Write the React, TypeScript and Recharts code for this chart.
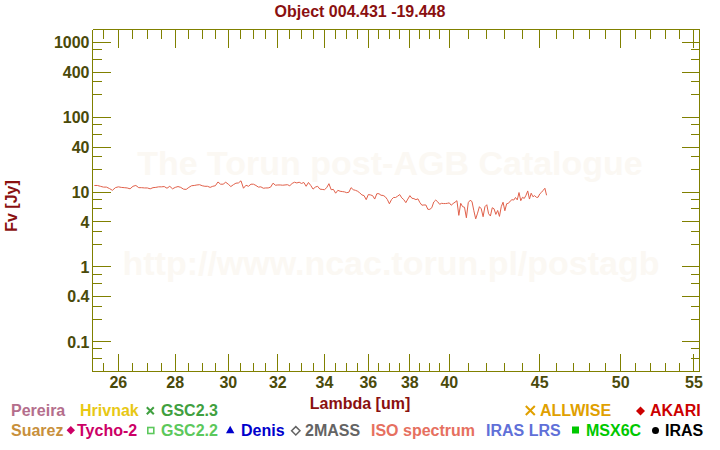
import { Line, LineChart, XAxis, YAxis } from "recharts";

// ISO SWS spectrum (um, Jy)
const WAVELENGTH = [
  25.2, 25.3, 25.4, 25.5, 25.6, 25.7, 25.8, 25.9, 26.0, 26.1, 26.2, 26.3, 26.4, 26.5, 26.6, 26.7, 26.8, 26.9,
  27.0, 27.1, 27.2, 27.3, 27.4, 27.5, 27.6, 27.7, 27.8, 27.9, 28.0, 28.1, 28.2, 28.3, 28.4, 28.5, 28.6, 28.7,
  28.8, 28.9, 29.0, 29.1, 29.2, 29.3, 29.4, 29.5, 29.6, 29.7, 29.8, 29.9, 30.0, 30.1, 30.2, 30.3, 30.4, 30.5,
  30.6, 30.7, 30.8, 30.9, 31.0, 31.1, 31.2, 31.3, 31.4, 31.5, 31.6, 31.7, 31.8, 31.9, 32.0, 32.1, 32.2, 32.3,
  32.4, 32.5, 32.6, 32.7, 32.8, 32.9, 33.0, 33.1, 33.2, 33.3, 33.4, 33.5, 33.6, 33.7, 33.8, 33.9, 34.0, 34.1,
  34.2, 34.3, 34.4, 34.5, 34.6, 34.7, 34.8, 34.9, 35.0, 35.1, 35.2, 35.3, 35.4, 35.5, 35.6, 35.7, 35.8, 35.9,
  36.0, 36.1, 36.2, 36.3, 36.4, 36.5, 36.6, 36.7, 36.8, 36.9, 37.0, 37.1, 37.2, 37.3, 37.4, 37.5, 37.6, 37.7,
  37.8, 37.9, 38.0, 38.1, 38.2, 38.3, 38.4, 38.5, 38.6, 38.7, 38.8, 38.9, 39.0, 39.1, 39.2, 39.3, 39.4, 39.5,
  39.6, 39.7, 39.8, 39.9, 40.0, 40.1, 40.2, 40.3, 40.4, 40.5, 40.6, 40.7, 40.8, 40.9, 41.0, 41.1, 41.2, 41.3,
  41.4, 41.5, 41.6, 41.7, 41.8, 41.9, 42.0, 42.1, 42.2, 42.3, 42.4, 42.5, 42.6, 42.7, 42.8, 42.9, 43.0, 43.1,
  43.2, 43.3, 43.4, 43.5, 43.6, 43.7, 43.8, 43.9, 44.0, 44.1, 44.2, 44.3, 44.4, 44.5, 44.6, 44.7, 44.8, 44.9,
  45.0, 45.1, 45.2, 45.3, 45.4,
];
const FLUX_JY = [
  12.3, 12.3, 12.0, 11.7, 11.7, 11.2, 10.6, 11.5, 11.8, 11.6, 11.5, 11.4, 11.1, 12.0, 12.3, 11.5, 11.5, 11.4,
  11.4, 11.1, 11.5, 11.6, 11.8, 11.8, 11.9, 11.3, 12.0, 11.1, 11.6, 11.9, 11.6, 11.0, 10.9, 11.6, 12.2, 12.3,
  12.5, 12.6, 12.2, 12.0, 12.0, 11.6, 12.0, 12.2, 13.7, 12.8, 12.8, 13.6, 12.8, 11.9, 12.6, 13.2, 13.3, 14.2,
  11.3, 12.4, 12.0, 12.8, 12.8, 12.3, 11.7, 11.8, 11.3, 11.4, 11.4, 11.7, 13.2, 12.4, 12.5, 12.5, 12.4, 12.5,
  12.6, 12.2, 13.1, 13.6, 13.3, 13.6, 13.1, 13.5, 12.0, 13.5, 12.3, 11.0, 11.7, 12.0, 11.0, 10.9, 10.8, 11.5,
  13.0, 10.8, 10.9, 9.7, 10.6, 10.3, 10.2, 10.1, 9.85, 10.0, 11.5, 10.8, 10.6, 10.3, 9.8, 9.2, 9.0, 7.95,
  9.3, 9.2, 9.0, 8.1, 9.55, 9.55, 9.1, 9.05, 8.7, 8.0, 7.0, 7.95, 8.5, 8.5, 8.85, 9.3, 8.4, 7.95,
  7.25, 8.1, 9.0, 8.3, 8.2, 7.95, 8.15, 7.25, 6.7, 6.75, 6.75, 5.9, 5.9, 6.2, 7.4, 7.85, 7.45, 6.9,
  7.1, 7.05, 7.05, 7.1, 7.2, 6.7, 7.05, 7.35, 7.7, 4.9, 7.1, 6.4, 6.3, 4.55, 7.25, 7.8, 7.5, 5.65,
  4.4, 5.25, 6.4, 6.0, 4.7, 6.4, 6.8, 5.15, 4.8, 6.2, 6.0, 5.05, 5.7, 4.75, 6.4, 7.35, 5.65, 7.0,
  7.1, 7.6, 7.95, 7.85, 8.5, 7.9, 9.9, 7.7, 8.55, 8.25, 9.1, 10.4, 8.1, 9.7, 8.7, 9.0, 8.55, 8.55,
  9.5, 9.95, 10.6, 11.3, 9.1,
];

const X_TICKS = [
  25.5, 26, 26.5, 27, 27.5, 28, 28.5, 29, 29.5, 30, 30.5, 31, 31.5, 32, 32.5, 33, 33.5, 34, 34.5, 35, 35.5,
  36, 36.5, 37, 37.5, 38, 38.5, 39, 39.5, 40, 41, 42, 43, 44, 45, 46, 47, 48, 49, 50, 51, 52, 53, 54, 55,
];
const X_LABELS = [26, 28, 30, 32, 34, 36, 38, 40, 45, 50, 55];
const Y_TICKS = [
  0.06, 0.08, 0.1, 0.2, 0.3, 0.4, 0.6, 0.8, 1, 2, 3, 4, 6, 8, 10, 20, 30, 40, 60, 80, 100, 200, 300, 400,
  600, 800, 1000,
];
const Y_LABELS = [0.1, 0.4, 1, 4, 10, 40, 100, 400, 1000];

const LEGEND_NAMES = [
  "Pereira", "Hrivnak", "GSC2.3", "ALLWISE", "AKARI",
  "Suarez", "Tycho-2", "GSC2.2", "Denis", "2MASS", "ISO spectrum", "IRAS LRS", "MSX6C", "IRAS",
];
const LEGEND_COLORS = [
  "#b46e8c", "#e8c814", "#40a040", "#e0a000", "#cc0000",
  "#c8903c", "#cc0066", "#5cc85c", "#0000cc", "#646464", "#e67060", "#6070d8", "#00c800", "#000000",
];
const LEGEND_MARKERS = [
  "", "", "cross", "cross", "diamond",
  "", "diamond", "square-open", "triangle", "diamond-open", "", "", "square", "circle",
];
// text x, baseline y, marker centre and half size
const LEGEND_LAYOUT = [
  { x: 11, y: 416 }, { x: 80, y: 416 }, { x: 161, y: 416, mx: 150.3, my: 410.7, ms: 3.5 },
  { x: 540, y: 416, mx: 530.3, my: 410.5, ms: 4.5 }, { x: 650, y: 416, mx: 640.5, my: 411, ms: 4.5 },
  { x: 11, y: 436 }, { x: 77, y: 436, mx: 70.8, my: 430.2, ms: 4.2 },
  { x: 161, y: 436, mx: 150.8, my: 430.5, ms: 3 }, { x: 241, y: 436, mx: 230.2, my: 430, ms: 4.2 },
  { x: 305, y: 436, mx: 295.8, my: 430.8, ms: 4.2 }, { x: 371, y: 436 }, { x: 486, y: 436 },
  { x: 586, y: 436, mx: 575.5, my: 430, ms: 3.5 }, { x: 665, y: 436, mx: 655.5, my: 430.5, ms: 3.5 },
];

const SPECTRUM = WAVELENGTH.map((lambda, i) => ({ lambda, flux: FLUX_JY[i] }));

const FONT = '"Liberation Sans", Arial, sans-serif';
const OLIVE = "#808000";
const TICK_TEXT = "#4a4a0a";
const DARK_RED = "#8a1010";
const WATERMARK = "#fbf8f3";
const LINE = "#e0604a";

function XTick(props: any) {
  const { x, y, payload, side } = props;
  const v = payload.value;
  const major = X_LABELS.includes(v);
  const len = major ? 18 : 9;
  const dir = side === "top" ? 1 : -1;
  return (
    <g>
      <line x1={x} x2={x} y1={y} y2={y + dir * len} stroke={OLIVE} shapeRendering="crispEdges" />
      {side === "bottom" && major && (
        <text x={x} y={y + 16} textAnchor="middle" fontFamily={FONT} fontWeight="bold" fontSize={16} fill={TICK_TEXT}>
          {v}
        </text>
      )}
    </g>
  );
}

function YTick(props: any) {
  const { x, y, payload, side } = props;
  const v = payload.value;
  const major = Y_LABELS.includes(v);
  const len = major ? 18 : 9;
  const dir = side === "left" ? 1 : -1;
  return (
    <g>
      <line x1={x} x2={x + dir * len} y1={y} y2={y} stroke={OLIVE} shapeRendering="crispEdges" />
      {side === "left" && major && (
        <text x={x - 3} y={y} dy="0.36em" textAnchor="end" fontFamily={FONT} fontWeight="bold" fontSize={16} fill={TICK_TEXT}>
          {v}
        </text>
      )}
    </g>
  );
}

function Marker({ kind, cx, cy, s, color }: { kind: string; cx: number; cy: number; s: number; color: string }) {
  switch (kind) {
    case "cross":
      return (
        <path d={`M${cx - s} ${cy - s}L${cx + s} ${cy + s}M${cx + s} ${cy - s}L${cx - s} ${cy + s}`} stroke={color} strokeWidth={2} />
      );
    case "diamond":
      return <path d={`M${cx} ${cy - s}L${cx + s} ${cy}L${cx} ${cy + s}L${cx - s} ${cy}Z`} fill={color} />;
    case "diamond-open":
      return (
        <path d={`M${cx} ${cy - s}L${cx + s} ${cy}L${cx} ${cy + s}L${cx - s} ${cy}Z`} fill="none" stroke={color} strokeWidth={1.5} />
      );
    case "square-open":
      return <rect x={cx - s} y={cy - s} width={2 * s} height={2 * s} fill="none" stroke={color} strokeWidth={1.6} />;
    case "square":
      return <rect x={cx - s} y={cy - s} width={2 * s} height={2 * s} fill={color} />;
    case "triangle":
      return <path d={`M${cx} ${cy - s}L${cx + s} ${cy + s * 0.8}L${cx - s} ${cy + s * 0.8}Z`} fill={color} />;
    case "circle":
      return <circle cx={cx} cy={cy} r={s} fill={color} />;
    default:
      return null;
  }
}

export default function App() {
  return (
    <div style={{ position: "absolute", left: 0, top: 0, width: 720, height: 450, background: "#fff", overflow: "hidden" }}>
      <svg width={720} height={450} style={{ position: "absolute", left: 0, top: 0 }} fontFamily={FONT} fontWeight="bold">
        <text x={390} y={175} textAnchor="middle" fontSize={34} fill={WATERMARK}>
          The Torun post-AGB Catalogue
        </text>
        <text x={391} y={275} textAnchor="middle" fontSize={34} fill={WATERMARK}>
          http://www.ncac.torun.pl/postagb
        </text>
        <text x={360} y={17} textAnchor="middle" fontSize={16} fill={DARK_RED}>
          Object 004.431 -19.448
        </text>
        <text x={360} y={409} textAnchor="middle" fontSize={16} fill={DARK_RED}>
          Lambda [um]
        </text>
        <text transform="translate(16.5 206) rotate(-90)" textAnchor="middle" fontSize={16} fill={DARK_RED}>
          Fv [Jy]
        </text>
        {LEGEND_NAMES.map((name, i) => {
          const l: any = LEGEND_LAYOUT[i];
          return (
            <g key={name}>
              {LEGEND_MARKERS[i] && <Marker kind={LEGEND_MARKERS[i]} cx={l.mx} cy={l.my} s={l.ms} color={LEGEND_COLORS[i]} />}
              <text x={l.x} y={l.y} fontSize={16} fill={LEGEND_COLORS[i]}>
                {name}
              </text>
            </g>
          );
        })}
      </svg>
      <div style={{ position: "absolute", left: 0, top: 0 }}>
        <LineChart width={720} height={450} data={SPECTRUM} margin={{ top: 28.5, right: 19.5, bottom: 0, left: 0 }}>
          <XAxis
            xAxisId={0}
            dataKey="lambda"
            type="number"
            scale="log"
            domain={[25.14, 55.4]}
            allowDataOverflow
            ticks={X_TICKS}
            interval={0}
            tickSize={0}
            tickMargin={0}
            height={78.5}
            axisLine={{ stroke: OLIVE, shapeRendering: "crispEdges" }}
            tick={(p: any) => <XTick {...p} side="bottom" />}
          />
          <XAxis
            xAxisId={1}
            orientation="top"
            dataKey="lambda"
            type="number"
            scale="log"
            domain={[25.14, 55.4]}
            allowDataOverflow
            ticks={X_TICKS}
            interval={0}
            tickSize={0}
            tickMargin={0}
            height={1}
            axisLine={{ stroke: OLIVE, shapeRendering: "crispEdges" }}
            tick={(p: any) => <XTick {...p} side="top" />}
          />
          <YAxis
            yAxisId={0}
            type="number"
            scale="log"
            domain={[0.04, 1500]}
            allowDataOverflow
            ticks={Y_TICKS}
            interval={0}
            tickSize={0}
            tickMargin={0}
            width={92.5}
            axisLine={{ stroke: OLIVE, shapeRendering: "crispEdges" }}
            tick={(p: any) => <YTick {...p} side="left" />}
          />
          <YAxis
            yAxisId={1}
            orientation="right"
            type="number"
            scale="log"
            domain={[0.04, 1500]}
            allowDataOverflow
            ticks={Y_TICKS}
            interval={0}
            tickSize={0}
            tickMargin={0}
            width={1}
            axisLine={{ stroke: OLIVE, shapeRendering: "crispEdges" }}
            tick={(p: any) => <YTick {...p} side="right" />}
          />
          {/* invisible copy that keeps the mirrored top/right axes alive */}
          <Line
            xAxisId={1}
            yAxisId={1}
            dataKey="flux"
            stroke="none"
            dot={false}
            activeDot={false}
            isAnimationActive={false}
          />
          <Line
            xAxisId={0}
            yAxisId={0}
            dataKey="flux"
            type="linear"
            stroke={LINE}
            strokeWidth={1}
            dot={false}
            activeDot={false}
            isAnimationActive={false}
          />
        </LineChart>
      </div>
    </div>
  );
}
